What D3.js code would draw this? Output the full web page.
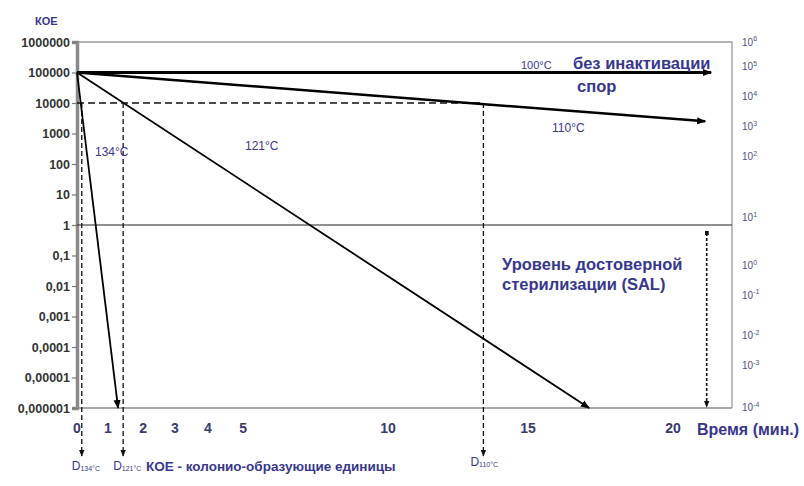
<!DOCTYPE html>
<html>
<head>
<meta charset="utf-8">
<script src="https://d3js.org/d3.v7.min.js"></script>
<style>
  body { margin:0; background:#fff; }
  text { font-family:"Liberation Sans", Arial, sans-serif; }
  .blue { fill:#37378f; }
  .num { fill:#333; font-weight:bold; font-size:12.5px; }
  .xnum { fill:#3a3a70; font-weight:bold; font-size:14px; }
</style>
</head>
<body>
<svg id="chart" width="804" height="486"></svg>
<script>
// left axis (КОЕ)
var yTickVals = [1e6, 1e5, 1e4, 1000, 100, 10, 1, 0.1, 0.01, 0.001, 0.0001, 0.00001, 0.000001];
var yTickLabels = ["1000000", "100000", "10000", "1000", "100", "10", "1", "0,1", "0,01", "0,001", "0,0001", "0,00001", "0,000001"];

// bottom axis (time, min) - labels and where they sit in the picture
var xTickLabels = ["0", "1", "2", "3", "4", "5", "10", "15", "20"];
var xTickPos = [0, 1.04, 2.22, 3.29, 4.4, 5.58, 10.45, 15.15, 20.02];

// right axis labels (10^n) and their position in log10 units of left axis
var rightExp = ["6", "5", "4", "3", "2", "1", "0", "-1", "-2", "-3", "-4"];
var rightPos = [6.0, 5.2, 4.21, 3.22, 2.24, 0.23, -1.32, -2.3, -3.62, -4.6, -5.99];

// inactivation lines
var temps = ["100°C", "110°C", "121°C", "134°C"];
var startCfu = 1e5;
var endTime = [21.3, 21.1, 17.2, 1.38];
var endCfu = [1e5, 2500, 1e-6, 1e-6];
var lineWidth = [3, 2.5, 1.8, 1.8];

// D values
var dTimes = [0.16, 1.55, 13.65];
var dSubs = ["134°C", "121°C", "110°C"];
var dLevel = 1e4;

var salTime = 21.15;
var salLevel = 1;

var svg = d3.select("#chart");
var x = d3.scaleLinear().domain([0, 22]).range([77, 732]);
var y = d3.scaleLog().domain([1e-6, 1e6]).range([408, 42]);

var defs = svg.append("defs");
defs.append("marker")
  .attr("id", "arr")
  .attr("viewBox", "0 0 10 10")
  .attr("refX", 9).attr("refY", 5)
  .attr("markerWidth", 9).attr("markerHeight", 9)
  .attr("markerUnits", "userSpaceOnUse")
  .attr("orient", "auto")
  .append("path").attr("d", "M0,1L10,5L0,9Z").attr("fill", "#000");
defs.append("marker")
  .attr("id", "arrs")
  .attr("viewBox", "0 0 10 10")
  .attr("refX", 9).attr("refY", 5)
  .attr("markerWidth", 7).attr("markerHeight", 7)
  .attr("markerUnits", "userSpaceOnUse")
  .attr("orient", "auto")
  .append("path").attr("d", "M0,1L10,5L0,9Z").attr("fill", "#111");
defs.append("marker")
  .attr("id", "sq")
  .attr("viewBox", "0 0 10 10")
  .attr("refX", 5).attr("refY", 5)
  .attr("markerWidth", 4).attr("markerHeight", 4)
  .attr("markerUnits", "userSpaceOnUse")
  .append("rect").attr("width", 10).attr("height", 10).attr("fill", "#111");

// frame: top and right
svg.append("path")
  .attr("d", "M" + x(0) + "," + y(1e6) + "H" + x(22) + "V" + y(1e-6))
  .attr("fill", "none").attr("stroke", "#9a9a9a").attr("stroke-width", 1.3);

// bottom axis line
svg.append("line")
  .attr("x1", x(0)).attr("x2", x(22))
  .attr("y1", y(1e-6)).attr("y2", y(1e-6))
  .attr("stroke", "#8a8a8a").attr("stroke-width", 1.3);

// left axis (thick gray)
var yAxis = svg.append("g")
  .attr("transform", "translate(" + x(0) + ",0)")
  .call(d3.axisLeft(y).tickValues(yTickVals).tickSize(5).tickFormat(function(d, i){ return yTickLabels[i]; }));
yAxis.select(".domain").attr("stroke", "#8a8a8a").attr("stroke-width", 3.5);
yAxis.selectAll(".tick line").attr("stroke", "#777").attr("stroke-width", 1.2);
yAxis.selectAll(".tick text").attr("class", "num").attr("x", -7).attr("dy", "0.35em").attr("fill", "#333");

// SAL level line at 1
svg.append("line")
  .attr("x1", x(0)).attr("x2", x(22))
  .attr("y1", y(salLevel)).attr("y2", y(salLevel))
  .attr("stroke", "#222").attr("stroke-width", 1.2);

// x tick labels
svg.append("g").selectAll("text")
  .data(xTickLabels).enter().append("text")
  .attr("class", "xnum")
  .attr("x", function(d, i){ return x(xTickPos[i]); })
  .attr("y", 433)
  .attr("text-anchor", "middle")
  .text(function(d){ return d; });

// right axis labels
var rl = svg.append("g").selectAll("text")
  .data(rightExp).enter().append("text")
  .attr("x", 742)
  .attr("y", function(d, i){ return y(Math.pow(10, rightPos[i])); })
  .attr("dy", "0.35em")
  .attr("fill", "#52528a")
  .attr("font-size", "10px");
rl.append("tspan").text("10");
rl.append("tspan").attr("font-size", "7px").attr("dy", "-0.6em").text(function(d){ return d; });

// dashed reference lines for D values
svg.append("line")
  .attr("x1", x(0)).attr("x2", x(dTimes[2]))
  .attr("y1", y(dLevel)).attr("y2", y(dLevel))
  .attr("stroke", "#111").attr("stroke-width", 1.3)
  .attr("stroke-dasharray", "7,4");

svg.append("g").selectAll("line")
  .data(dTimes).enter().append("line")
  .attr("x1", function(d){ return x(d); })
  .attr("x2", function(d){ return x(d); })
  .attr("y1", y(dLevel))
  .attr("y2", y(1e-6) + 48)
  .attr("stroke", "#111").attr("stroke-width", 1.3)
  .attr("stroke-dasharray", "5,3")
  .attr("marker-end", "url(#arrs)");

// SAL arrow
svg.append("line")
  .attr("x1", x(salTime)).attr("x2", x(salTime))
  .attr("y1", y(salLevel) + 8).attr("y2", y(1e-6) - 1)
  .attr("stroke", "#111").attr("stroke-width", 1.6)
  .attr("stroke-dasharray", "3,2")
  .attr("marker-start", "url(#sq)")
  .attr("marker-end", "url(#arrs)");

// inactivation lines
svg.append("g").selectAll("line")
  .data(temps).enter().append("line")
  .attr("x1", x(0))
  .attr("y1", y(startCfu))
  .attr("x2", function(d, i){ return x(endTime[i]); })
  .attr("y2", function(d, i){ return y(endCfu[i]); })
  .attr("stroke", "#000")
  .attr("stroke-width", function(d, i){ return lineWidth[i]; })
  .attr("marker-end", "url(#arr)");

// texts
function label(t, px, py, size, bold, anchor){
  return svg.append("text").attr("class", "blue")
    .attr("x", px).attr("y", py)
    .attr("font-size", size + "px")
    .attr("font-weight", bold ? "bold" : "normal")
    .attr("text-anchor", anchor || "start")
    .text(t);
}
label("КОЕ", 35, 25, 11, true);
label(temps[0], 521, 69, 11, false);
label("без инактивации", 573, 69, 16.5, true);
label("спор", 577, 92, 16.5, true);
label(temps[1], 552, 132, 12, false);
label(temps[2], 245, 150, 12, false);
label(temps[3], 95, 156, 12, false);
label("Уровень достоверной", 502, 270, 16.5, true);
label("стерилизации (SAL)", 502, 290, 16.5, true);
label("Время (мин.)", 697, 435, 16, true);
label("КОЕ - колонио-образующие единицы", 146, 471, 13.5, true);

// D labels
var dl = svg.append("g").selectAll("text")
  .data(dSubs).enter().append("text")
  .attr("class", "blue")
  .attr("x", function(d, i){ return x(dTimes[i]) - (i == 2 ? 13 : 10); })
  .attr("y", function(d, i){ return i == 2 ? 466 : 470; })
  .attr("font-size", "12px");
dl.append("tspan").text("D");
dl.append("tspan").attr("font-size", "7px").attr("dy", "0.2em").text(function(d){ return d; });
</script>
</body>
</html>
